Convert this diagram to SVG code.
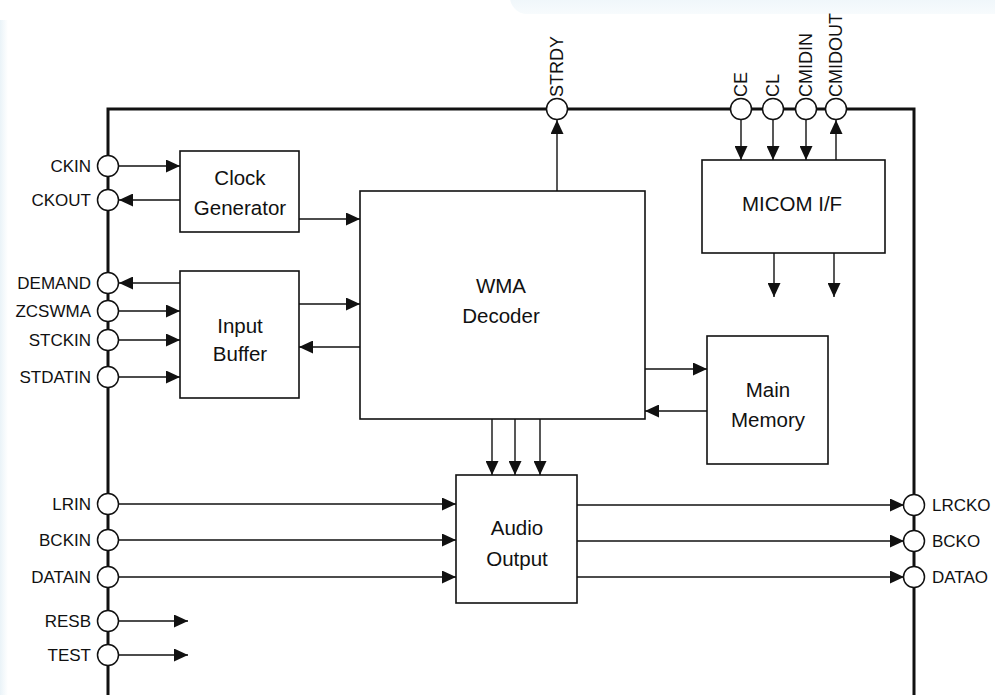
<svg xmlns="http://www.w3.org/2000/svg" width="995" height="695" viewBox="0 0 995 695">
<defs>
<marker id="ah" markerUnits="userSpaceOnUse" markerWidth="15" markerHeight="13" refX="14" refY="6.5" orient="auto">
<path d="M0,0 L14,6.5 L0,13 Z" fill="#111"/>
</marker>
<linearGradient id="topg" x1="0" y1="0" x2="0" y2="1">
<stop offset="0" stop-color="#e6f1f7"/>
<stop offset="1" stop-color="#f7fbfd"/>
</linearGradient>
<linearGradient id="leftg" x1="0" y1="0" x2="1" y2="0">
<stop offset="0" stop-color="#eaf3f8"/>
<stop offset="1" stop-color="#ffffff"/>
</linearGradient>
</defs>
<style>
.box{fill:#fff;stroke:#111;stroke-width:1.6}
.pin{fill:#fff;stroke:#111;stroke-width:1.5}
.frame{fill:none;stroke:#111;stroke-width:3}
.conn line{stroke:#111;stroke-width:1.4;marker-end:url(#ah)}
.lbl{font-family:"Liberation Sans",Arial,sans-serif;font-size:17px;fill:#111}
.l{text-anchor:end}
.v{font-size:18px}
.bt{font-family:"Liberation Sans",Arial,sans-serif;font-size:20.5px;fill:#111;text-anchor:middle}
</style>
<rect width="995" height="695" fill="#fff"/>
<rect x="510" y="-20" width="500" height="34" rx="17" fill="url(#topg)"/>
<rect x="0" y="20" width="8" height="675" fill="url(#leftg)"/>

<path class="frame" d="M108,695 V109 H914 V695"/>

<g id="connectors" class="conn">
<line x1="118" y1="166" x2="180" y2="166"/>
<line x1="180" y1="200" x2="119" y2="200"/>
<line x1="299" y1="219" x2="360" y2="219"/>
<line x1="180" y1="283" x2="119" y2="283"/>
<line x1="118" y1="311" x2="180" y2="311"/>
<line x1="118" y1="340" x2="180" y2="340"/>
<line x1="118" y1="377" x2="180" y2="377"/>
<line x1="299" y1="304" x2="360" y2="304"/>
<line x1="360" y1="347" x2="299" y2="347"/>
<line x1="557" y1="191" x2="557" y2="120"/>
<line x1="741" y1="120" x2="741" y2="160"/>
<line x1="773" y1="120" x2="773" y2="160"/>
<line x1="806" y1="120" x2="806" y2="160"/>
<line x1="836" y1="160" x2="836" y2="120"/>
<line x1="774" y1="253" x2="774" y2="297"/>
<line x1="834" y1="253" x2="834" y2="297"/>
<line x1="645" y1="369" x2="707" y2="369"/>
<line x1="707" y1="411" x2="645" y2="411"/>
<line x1="492" y1="419" x2="492" y2="475"/>
<line x1="515" y1="419" x2="515" y2="475"/>
<line x1="540" y1="419" x2="540" y2="475"/>
<line x1="118" y1="504" x2="456" y2="504"/>
<line x1="118" y1="540" x2="456" y2="540"/>
<line x1="118" y1="577" x2="456" y2="577"/>
<line x1="577" y1="505" x2="904" y2="505"/>
<line x1="577" y1="541" x2="904" y2="541"/>
<line x1="577" y1="577" x2="904" y2="577"/>
<line x1="118" y1="621" x2="188" y2="621"/>
<line x1="118" y1="655" x2="188" y2="655"/>
</g>

<g id="clock-generator">
<rect class="box" x="180" y="151" width="119" height="81"/>
<text class="bt" x="240" y="185">Clock</text>
<text class="bt" x="240" y="215">Generator</text>
</g>
<g id="input-buffer">
<rect class="box" x="180" y="271" width="119" height="127"/>
<text class="bt" x="240" y="333">Input</text>
<text class="bt" x="240" y="361">Buffer</text>
</g>
<g id="wma-decoder">
<rect class="box" x="360" y="191" width="285" height="228"/>
<text class="bt" x="501" y="293">WMA</text>
<text class="bt" x="501" y="323">Decoder</text>
</g>
<g id="micom-if">
<rect class="box" x="702" y="160" width="183" height="93"/>
<text class="bt" x="792" y="211">MICOM I/F</text>
</g>
<g id="main-memory">
<rect class="box" x="707" y="336" width="121" height="128"/>
<text class="bt" x="768" y="397">Main</text>
<text class="bt" x="768" y="427">Memory</text>
</g>
<g id="audio-output">
<rect class="box" x="456" y="475" width="121" height="128"/>
<text class="bt" x="517" y="535">Audio</text>
<text class="bt" x="517" y="566">Output</text>
</g>

<g id="pin-CKIN"><circle class="pin" cx="108" cy="166" r="10.5"/><text class="lbl l" x="91" y="172">CKIN</text></g>
<g id="pin-CKOUT"><circle class="pin" cx="108" cy="200" r="10.5"/><text class="lbl l" x="91" y="206">CKOUT</text></g>
<g id="pin-DEMAND"><circle class="pin" cx="108" cy="283" r="10.5"/><text class="lbl l" x="91" y="289">DEMAND</text></g>
<g id="pin-ZCSWMA"><circle class="pin" cx="108" cy="311" r="10.5"/><text class="lbl l" x="91" y="317">ZCSWMA</text></g>
<g id="pin-STCKIN"><circle class="pin" cx="108" cy="340" r="10.5"/><text class="lbl l" x="91" y="346">STCKIN</text></g>
<g id="pin-STDATIN"><circle class="pin" cx="108" cy="377" r="10.5"/><text class="lbl l" x="91" y="383">STDATIN</text></g>
<g id="pin-LRIN"><circle class="pin" cx="108" cy="504" r="10.5"/><text class="lbl l" x="91" y="510">LRIN</text></g>
<g id="pin-BCKIN"><circle class="pin" cx="108" cy="540" r="10.5"/><text class="lbl l" x="91" y="546">BCKIN</text></g>
<g id="pin-DATAIN"><circle class="pin" cx="108" cy="577" r="10.5"/><text class="lbl l" x="91" y="583">DATAIN</text></g>
<g id="pin-RESB"><circle class="pin" cx="108" cy="621" r="10.5"/><text class="lbl l" x="91" y="627">RESB</text></g>
<g id="pin-TEST"><circle class="pin" cx="108" cy="655" r="10.5"/><text class="lbl l" x="91" y="661">TEST</text></g>

<g id="pin-LRCKO"><circle class="pin" cx="914" cy="505" r="10.5"/><text class="lbl" x="932" y="511">LRCKO</text></g>
<g id="pin-BCKO"><circle class="pin" cx="914" cy="541" r="10.5"/><text class="lbl" x="932" y="547">BCKO</text></g>
<g id="pin-DATAO"><circle class="pin" cx="914" cy="577" r="10.5"/><text class="lbl" x="932" y="583">DATAO</text></g>

<g id="pin-STRDY"><circle class="pin" cx="557" cy="109" r="10.5"/><text class="lbl v" transform="translate(563,97) rotate(-90)">STRDY</text></g>
<g id="pin-CE"><circle class="pin" cx="741" cy="109" r="10.5"/><text class="lbl v" transform="translate(747,97) rotate(-90)">CE</text></g>
<g id="pin-CL"><circle class="pin" cx="773" cy="109" r="10.5"/><text class="lbl v" transform="translate(779,97) rotate(-90)">CL</text></g>
<g id="pin-CMIDIN"><circle class="pin" cx="806" cy="109" r="10.5"/><text class="lbl v" transform="translate(812,97) rotate(-90)">CMIDIN</text></g>
<g id="pin-CMIDOUT"><circle class="pin" cx="836" cy="109" r="10.5"/><text class="lbl v" transform="translate(842,97) rotate(-90)">CMIDOUT</text></g>
</svg>
